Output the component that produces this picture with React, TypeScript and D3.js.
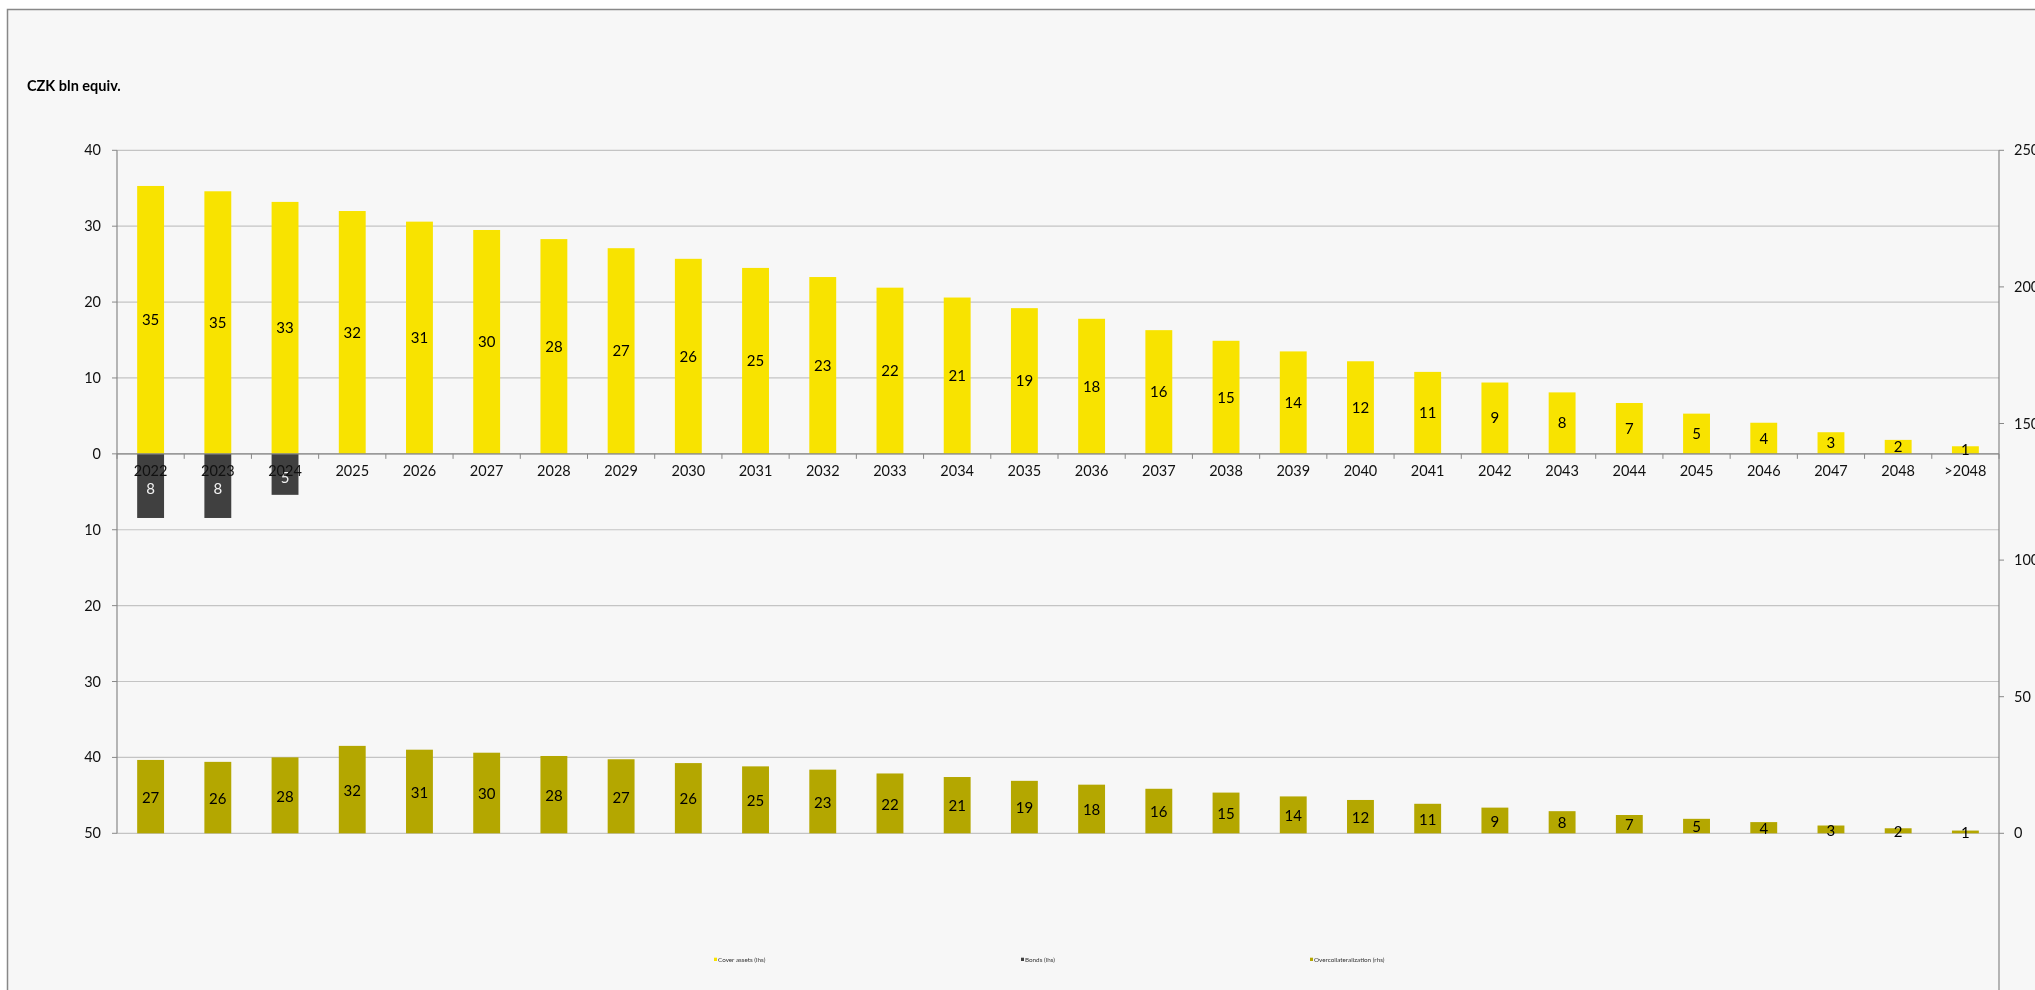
import React from "react";
import * as d3 from "d3";

const categories = ["2022","2023","2024","2025","2026","2027","2028","2029","2030","2031","2032","2033","2034","2035","2036","2037","2038","2039","2040","2041","2042","2043","2044","2045","2046","2047","2048",">2048"];
const coverAssets = [35.3,34.6,33.2,32.0,30.6,29.5,28.3,27.1,25.7,24.5,23.3,21.9,20.6,19.2,17.8,16.3,14.9,13.5,12.2,10.8,9.4,8.1,6.7,5.3,4.1,2.85,1.84,1.0];
const bonds = [8.45,8.45,5.4,0,0,0,0,0,0,0,0,0,0,0,0,0,0,0,0,0,0,0,0,0,0,0,0,0];
const overcollateralization = [26.85,26.15,27.8,32.0,30.6,29.5,28.3,27.1,25.7,24.5,23.3,21.9,20.6,19.2,17.8,16.3,14.9,13.5,12.2,10.8,9.4,8.1,6.7,5.3,4.1,2.85,1.84,1.0];
const leftTicks = [-50,-40,-30,-20,-10,0,10,20,30,40];
const rightTicks = [0,50,100,150,200,250];
const legendItems = ["Cover assets (lhs)", "Bonds (lhs)", "Overcollateralization (rhs)"];

const W = 2035, H = 990;
const X0 = 117, X1 = 1999;
const YT = 150.3, YB = 833.3;
const FONT = "Lato, 'Open Sans', sans-serif";
const C_YELLOW = "#F8E300";
const C_DARK = "#404040";
const C_OLIVE = "#B4A700";

export default function App() {
  const x = d3.scaleBand<string>().domain(categories).range([X0, X1]).paddingInner(0.6).paddingOuter(0.3);
  const xEdge = d3.scaleBand<string>().domain(categories).range([X0, X1]).padding(0);
  const yL = d3.scaleLinear().domain([-50, 40]).range([YB, YT]);
  const yR = d3.scaleLinear().domain([0, 250]).range([YB, YT]);
  const fmt = d3.format(".0f");
  const bw = x.bandwidth();
  const y0 = yL(0);
  const legendX = [714, 1021, 1310];
  const legendColors = [C_YELLOW, C_DARK, C_OLIVE];

  return (
    <svg width={W} height={H} style={{ position: "fixed", left: 0, top: 0 }} fontFamily={FONT}>
      <rect x={0} y={0} width={W} height={H} fill="#fff" />
      <rect x={7.5} y={9.5} width={W + 10} height={H + 10} fill="#F7F7F7" stroke="#888" strokeWidth={1.5} />
      <text x={27} y={91} fontSize={14.5} fontWeight="bold" fill="#000">CZK bln equiv.</text>

      {/* gridlines */}
      {leftTicks.map(t => (
        <line key={"g" + t} x1={X0} x2={X1} y1={yL(t)} y2={yL(t)} stroke="#C4C4C4" strokeWidth={1.2} />
      ))}

      {/* left axis */}
      <line x1={X0} x2={X0} y1={YT} y2={YB} stroke="#888" strokeWidth={1.2} />
      {leftTicks.map(t => (
        <g key={"l" + t}>
          <line x1={X0 - 5} x2={X0} y1={yL(t)} y2={yL(t)} stroke="#888" />
          <text x={101} y={yL(t)} dy="0.35em" textAnchor="end" fontSize={14.5} fill="#111">{Math.abs(t)}</text>
        </g>
      ))}

      {/* right axis */}
      <line x1={X1} x2={X1} y1={YT} y2={H} stroke="#888" strokeWidth={1.2} />
      {rightTicks.map(t => (
        <g key={"r" + t}>
          <line x1={X1} x2={X1 + 5} y1={yR(t)} y2={yR(t)} stroke="#888" />
          <text x={2014} y={yR(t)} dy="0.35em" textAnchor="start" fontSize={14.5} fill="#111">{t}</text>
        </g>
      ))}

      {/* cover assets */}
      {categories.map((c, i) => (
        <rect key={"ca" + c} x={x(c)} y={yL(coverAssets[i])} width={bw} height={y0 - yL(coverAssets[i])} fill={C_YELLOW} />
      ))}
      {/* bonds */}
      {categories.map((c, i) => bonds[i] > 0 ? (
        <rect key={"b" + c} x={x(c)} y={y0} width={bw} height={yL(-bonds[i]) - y0} fill={C_DARK} />
      ) : null)}
      {/* overcollateralization */}
      {categories.map((c, i) => (
        <rect key={"oc" + c} x={x(c)} y={yR(overcollateralization[i])} width={bw} height={yR(0) - yR(overcollateralization[i])} fill={C_OLIVE} />
      ))}

      {/* zero axis */}
      <line x1={X0} x2={X1} y1={y0} y2={y0} stroke="#888" strokeWidth={1.2} />
      {categories.concat(["end"]).map((c, i) => {
        const ex = i < categories.length ? (xEdge(c) as number) : X1;
        return <line key={"t" + i} x1={ex} x2={ex} y1={y0} y2={y0 + 5} stroke="#888" />;
      })}

      {/* data labels */}
      {categories.map((c, i) => (
        <text key={"lca" + c} x={(x(c) as number) + bw / 2} y={(yL(coverAssets[i]) + y0) / 2} dy="0.35em" textAnchor="middle" fontSize={15} fill="#000">{fmt(coverAssets[i])}</text>
      ))}
      {categories.map((c, i) => bonds[i] > 0 ? (
        <text key={"lb" + c} x={(x(c) as number) + bw / 2} y={(yL(-bonds[i]) + y0) / 2 + 3} dy="0.35em" textAnchor="middle" fontSize={15} fill="#F2F2F2">{fmt(bonds[i])}</text>
      ) : null)}
      {categories.map((c, i) => (
        <text key={"loc" + c} x={(x(c) as number) + bw / 2} y={(yR(overcollateralization[i]) + yR(0)) / 2 + 1} dy="0.35em" textAnchor="middle" fontSize={15} fill="#000">{fmt(overcollateralization[i])}</text>
      ))}

      {/* category labels */}
      {categories.map(c => (
        <text key={"cl" + c} x={(x(c) as number) + bw / 2} y={471} dy="0.35em" textAnchor="middle" fontSize={14.5} fill="#111">{c}</text>
      ))}

      {/* legend */}
      {legendItems.map((l, i) => (
        <g key={"lg" + i}>
          <rect x={legendX[i]} y={957.7} width={3} height={3.3} fill={legendColors[i]} />
          <text x={legendX[i] + 4} y={959.5} dy="0.35em" fontSize={6.3} fill="#333">{l}</text>
        </g>
      ))}
    </svg>
  );
}
